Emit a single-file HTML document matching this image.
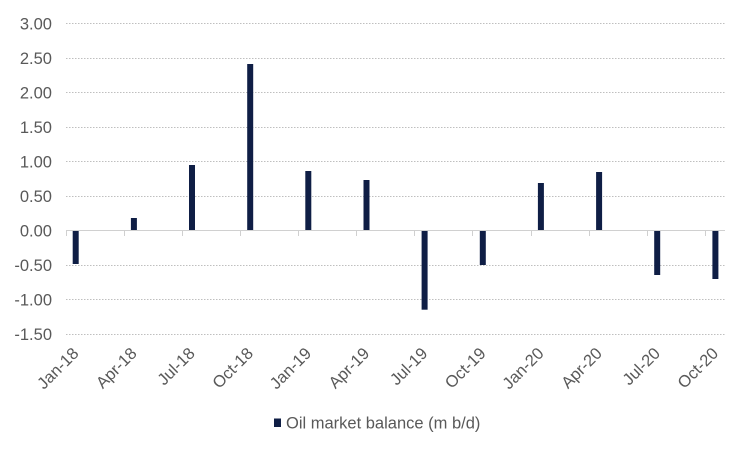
<!DOCTYPE html>
<html>
<head>
<meta charset="utf-8">
<style>
  html, body { margin: 0; padding: 0; background: #ffffff; }
  svg { display: block; }
  text { font-family: "Liberation Sans", Arial, sans-serif; fill: #595959; }
</style>
</head>
<body>
<svg width="751" height="451" viewBox="0 0 751 451" xmlns="http://www.w3.org/2000/svg">
  <rect x="0" y="0" width="751" height="451" fill="#ffffff"/>

  <!-- gridlines -->
  <g stroke="#bfbfbf" stroke-width="1" stroke-dasharray="1.5,1.5">
    <line x1="66" y1="23.5" x2="725" y2="23.5"/>
    <line x1="66" y1="58.5" x2="725" y2="58.5"/>
    <line x1="66" y1="92.5" x2="725" y2="92.5"/>
    <line x1="66" y1="127.5" x2="725" y2="127.5"/>
    <line x1="66" y1="161.5" x2="725" y2="161.5"/>
    <line x1="66" y1="196.5" x2="725" y2="196.5"/>
    <line x1="66" y1="265.5" x2="725" y2="265.5"/>
    <line x1="66" y1="299.5" x2="725" y2="299.5"/>
    <line x1="66" y1="334.5" x2="725" y2="334.5"/>
  </g>

  <!-- y labels -->
  <g font-size="16.5" text-anchor="end">
    <text x="52" y="29.5">3.00</text>
    <text x="52" y="64">2.50</text>
    <text x="52" y="98.5">2.00</text>
    <text x="52" y="133">1.50</text>
    <text x="52" y="167.5">1.00</text>
    <text x="52" y="202">0.50</text>
    <text x="52" y="236.5">0.00</text>
    <text x="52" y="271">-0.50</text>
    <text x="52" y="305.5">-1.00</text>
    <text x="52" y="340">-1.50</text>
  </g>

  <!-- bars -->
  <g fill="#0f1e45">
    <rect x="72.7" y="230.5" width="6" height="33.5"/>
    <rect x="130.9" y="218" width="6" height="12.5"/>
    <rect x="189" y="165" width="6" height="65.5"/>
    <rect x="247.2" y="64" width="6" height="166.5"/>
    <rect x="305.3" y="171" width="6" height="59.5"/>
    <rect x="363.5" y="180" width="6" height="50.5"/>
    <rect x="421.6" y="230.5" width="6" height="79.2"/>
    <rect x="479.8" y="230.5" width="6" height="34.5"/>
    <rect x="537.9" y="183" width="6" height="47.5"/>
    <rect x="596.1" y="172" width="6" height="58.5"/>
    <rect x="654.2" y="230.5" width="6" height="44.5"/>
    <rect x="712.4" y="230.5" width="6" height="48.5"/>
  </g>

  <!-- axis line and ticks -->
  <g stroke="#d0d0d0" stroke-width="1">
    <line x1="66" y1="230.5" x2="725" y2="230.5"/>
    <line x1="66.5" y1="230.5" x2="66.5" y2="236"/>
    <line x1="124.5" y1="230.5" x2="124.5" y2="236"/>
    <line x1="182.5" y1="230.5" x2="182.5" y2="236"/>
    <line x1="240.5" y1="230.5" x2="240.5" y2="236"/>
    <line x1="298.5" y1="230.5" x2="298.5" y2="236"/>
    <line x1="356.5" y1="230.5" x2="356.5" y2="236"/>
    <line x1="414.5" y1="230.5" x2="414.5" y2="236"/>
    <line x1="472.5" y1="230.5" x2="472.5" y2="236"/>
    <line x1="531.5" y1="230.5" x2="531.5" y2="236"/>
    <line x1="589.5" y1="230.5" x2="589.5" y2="236"/>
    <line x1="647.5" y1="230.5" x2="647.5" y2="236"/>
    <line x1="705.5" y1="230.5" x2="705.5" y2="236"/>
  </g>

  <!-- x labels -->
  <g font-size="16.5" text-anchor="end">
    <text transform="translate(75.7,350.5) rotate(-45)" dy="5.5">Jan-18</text>
    <text transform="translate(133.9,350.5) rotate(-45)" dy="5.5">Apr-18</text>
    <text transform="translate(192,350.5) rotate(-45)" dy="5.5">Jul-18</text>
    <text transform="translate(250.2,350.5) rotate(-45)" dy="5.5">Oct-18</text>
    <text transform="translate(308.3,350.5) rotate(-45)" dy="5.5">Jan-19</text>
    <text transform="translate(366.5,350.5) rotate(-45)" dy="5.5">Apr-19</text>
    <text transform="translate(424.6,350.5) rotate(-45)" dy="5.5">Jul-19</text>
    <text transform="translate(482.8,350.5) rotate(-45)" dy="5.5">Oct-19</text>
    <text transform="translate(540.9,350.5) rotate(-45)" dy="5.5">Jan-20</text>
    <text transform="translate(599.1,350.5) rotate(-45)" dy="5.5">Apr-20</text>
    <text transform="translate(657.2,350.5) rotate(-45)" dy="5.5">Jul-20</text>
    <text transform="translate(715.4,350.5) rotate(-45)" dy="5.5">Oct-20</text>
  </g>

  <!-- legend -->
  <rect x="274" y="418.5" width="7" height="8.5" fill="#0f1e45"/>
  <text x="286" y="428.5" font-size="16.5">Oil market balance (m b/d)</text>
</svg>
</body>
</html>
